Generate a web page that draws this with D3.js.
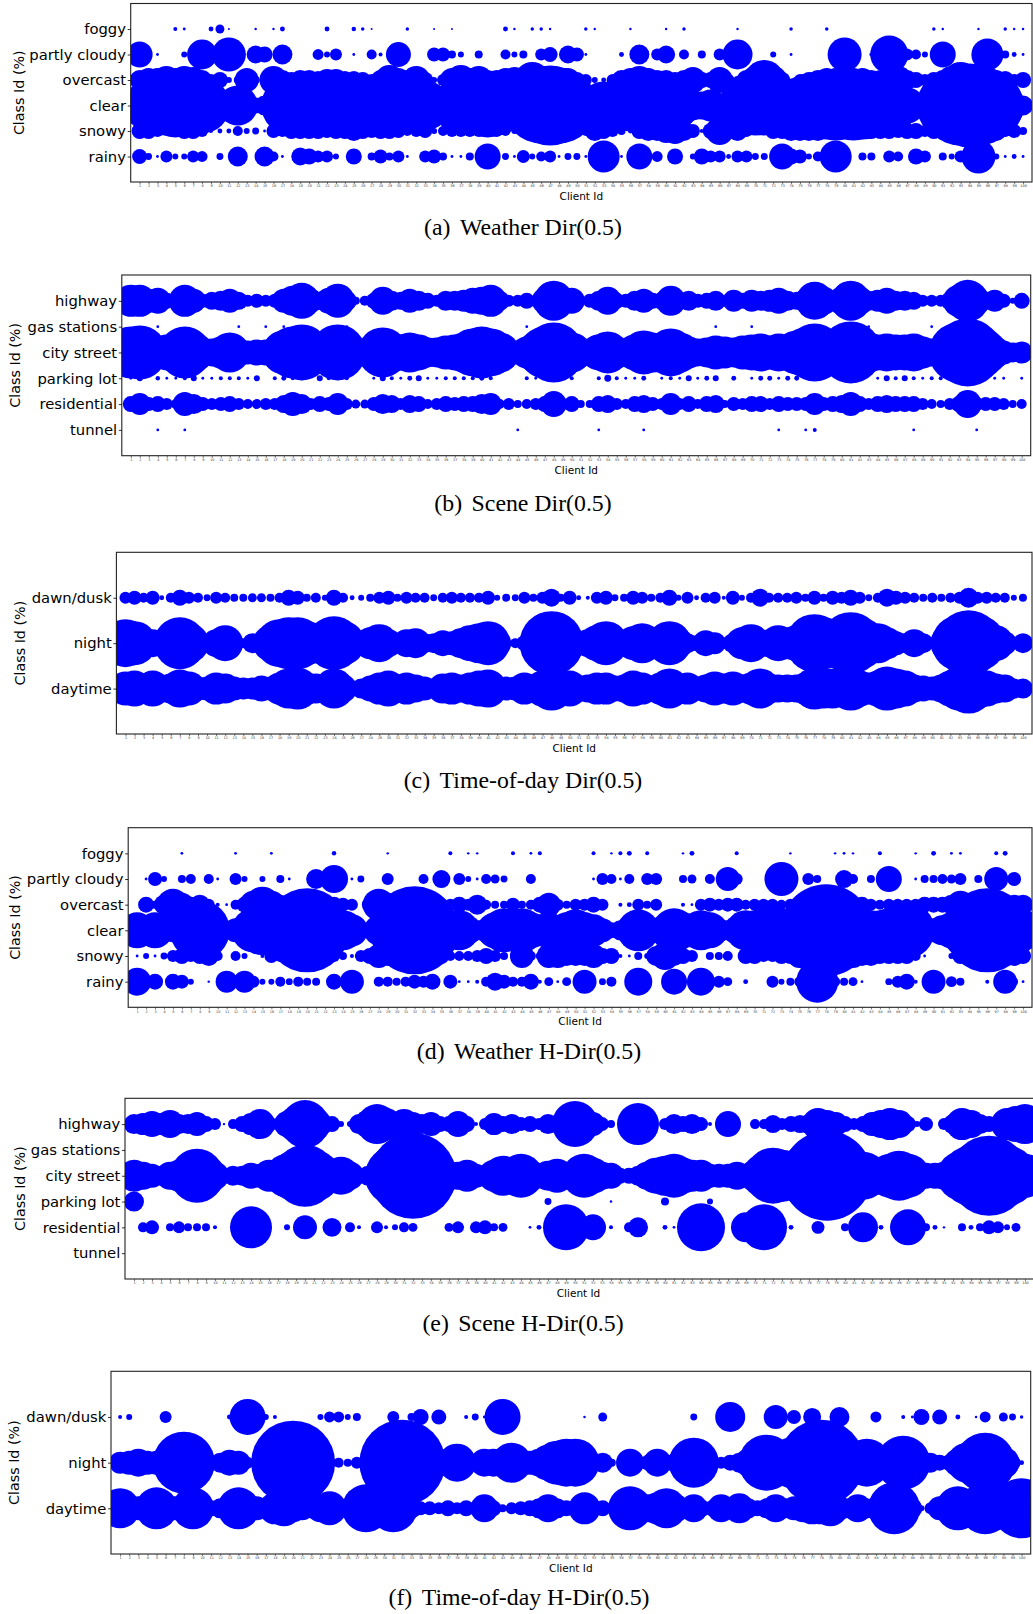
<!DOCTYPE html>
<html><head><meta charset="utf-8">
<script src="https://cdn.jsdelivr.net/npm/d3@7"></script>
<style>body{margin:0;background:#fff;} svg{display:block;}</style>
</head><body>
<svg id="chart" width="1033" height="1614"></svg>
<script>
// ---------- categories / ticks ----------
const clients = d3.range(1, 101);
const clientTickLabels = clients.map(String);
const weatherClasses = ["rainy", "snowy", "clear", "overcast", "partly cloudy", "foggy"];
const sceneClasses = ["tunnel", "residential", "parking lot", "city street", "gas stations", "highway"];
const timeClasses = ["daytime", "night", "dawn/dusk"];

// ---------- (a) Weather Dir(0.5) ----------
const aFoggy = [0,0,0,0,4,2,0,0,6,20, 1,0,0,1.5,0,1.5,6,0,0,0, 0,6,0,0,5,3,1,0,0,0, 3,0,0,1,0,1,0,0,0,0, 0,6,1.5,0,3,3,1.5,0,0,0, 3,1.5,0,0,0,1.5,0,0,0,1.5, 0,3,0,0,0,0,0,1.5,0,0, 0,0,0,3,0,0,0,3,0,0, 0,0,0,0,0,0,0,0,0,3, 1.5,0,0,0,1.5,0,0,3,1.5,1.5];
const aPartlyCloudy = [169,0,2,0,0,9,0,225,0,0, 289,0,0,81,64,0,100,0,0,0, 30,9,36,0,2,0,25,4,0,156, 0,0,0,49,49,16,9,0,16,0, 0,25,9,16,0,36,56,0,81,49, 2,0,0,0,6,0,100,0,36,81, 0,25,0,16,0,36,0,225,0,0, 0,9,0,2,0,0,0,0,0,289, 0,0,4,0,361,49,36,25,9,0, 169,0,0,0,0,256,0,16,6,2];
const aOvercast = [100,144,144,196,144,196,169,100,36,64, 9,16,144,16,25,196,100,64,100,100, 81,121,121,81,81,64,36,100,225,144, 100,196,64,9,36,144,225,144,196,100, 100,144,169,144,324,196,144,144,144,64, 36,9,6,36,100,144,196,144,100,100, 64,100,169,64,64,169,36,16,100,196, 400,196,64,2,36,64,100,144,144,196, 144,144,100,100,144,196,100,64,36,64, 100,196,324,256,196,144,100,81,36,64];
const aClear = [324,625,900,900,1024,1024,900,784,400,144, 196,400,144,64,100,196,400,900,1024,1024, 1024,900,1024,1024,900,784,484,400,484,625, 784,784,625,196,324,484,784,900,900,1024, 900,625,484,484,1024,1444,1600,1444,900,484, 196,400,576,576,400,676,784,676,576,676, 576,324,225,196,256,100,9,256,784,900, 900,784,625,484,784,1024,1156,1156,1225,1156, 1225,1156,1024,900,784,484,324,144,64,100, 625,1225,1600,1764,1600,1296,784,225,64,100];
const aSnowy = [64,64,36,16,36,64,64,36,4,6, 6,25,9,12,2,49,36,64,64,64, 64,49,64,64,100,64,49,64,64,49, 25,36,49,9,25,36,36,36,36,25, 36,25,9,16,64,64,64,64,36,25, 25,100,64,36,16,6,64,100,100,144, 169,100,49,4,64,196,64,100,36,4, 9,64,64,100,100,100,100,64,64,64, 64,64,64,64,64,49,64,64,36,64, 64,64,64,64,100,100,100,36,49,16];
const aRainy = [56,12,2,36,9,9,36,30,0,12, 0,100,0,0,100,25,2,0,81,64, 36,36,9,0,64,0,16,49,16,36, 2,0,36,49,16,2,2,16,0,169, 0,12,2,42,9,25,36,2,12,12, 2,0,256,0,2,0,169,0,30,0, 64,0,9,64,36,36,6,36,36,12, 12,0,169,64,49,9,25,0,256,0, 0,16,16,0,36,25,0,64,36,0, 16,9,36,0,289,0,9,2,6,2];

// ---------- (b) Scene Dir(0.5) ----------
const bHighway = [256,256,144,169,64,49,256,144,49,81, 100,144,81,36,49,36,49,144,225,324, 144,81,169,289,100,16,25,64,196,100, 81,144,100,64,36,100,100,121,169,196, 256,100,36,36,64,25,169,400,144,169, 25,49,100,196,64,49,100,144,64,81, 225,81,100,49,64,100,36,121,64,121, 100,121,169,100,81,144,361,196,64,196, 400,196,100,121,169,100,100,81,36,36, 36,81,256,441,196,81,121,49,9,64];
const bGasStations = [0,0,0,2,0,0,0,0,0,0, 0,0,2,0,0,2,0,2,0,0, 0,0,0,0,2,0,0,0,0,0, 0,0,0,0,0,0,0,0,0,0, 0,0,0,0,2,0,0,0,0,0, 0,0,0,0,0,0,0,0,0,0, 0,0,0,0,0,2,0,0,0,2, 0,0,0,0,0,0,0,0,0,0, 0,0,2,0,0,0,0,0,0,2, 0,0,0,0,0,0,0,0,0,0];
const bCityStreet = [676,729,324,256,324,400,676,400,144,196, 256,400,196,144,169,169,225,484,676,784, 484,324,484,784,400,100,100,324,625,400, 324,400,324,225,225,289,324,400,576,676, 576,400,100,144,256,400,676,900,484,400, 144,196,324,441,256,196,324,484,400,400, 576,400,256,196,225,289,256,225,289,324, 361,289,361,324,484,625,841,576,400,625, 961,576,400,324,361,324,324,361,256,196, 196,400,900,1156,784,484,256,144,100,121];
const bParkingLot = [2,9,0,5,2,2,4,9,2,2, 4,4,4,2,9,0,4,6,4,4, 0,9,4,4,4,0,0,2,9,4, 2,6,9,2,2,4,4,4,4,6, 4,0,0,0,4,2,0,0,0,4, 0,0,4,12,4,2,2,6,0,2, 4,2,9,2,6,9,0,6,0,2, 6,6,2,6,6,0,0,0,0,0, 0,0,0,2,9,4,9,4,2,4, 4,0,0,0,0,0,2,2,0,2];
const bResidential = [64,121,49,64,36,25,144,100,49,36, 49,64,36,25,25,36,36,81,144,100, 36,64,49,121,36,20,20,49,100,81, 36,81,64,25,36,64,49,64,64,100, 121,25,36,16,25,36,64,169,36,64, 16,16,64,81,36,25,64,81,49,36, 121,36,64,25,64,81,16,49,36,64, 64,36,64,49,49,49,121,49,64,81, 144,64,36,64,81,64,64,64,36,25, 16,36,64,196,49,49,49,36,16,25];
const bTunnel = [0,0,0,2,0,0,2,0,0,0, 0,0,0,0,0,0,0,0,0,0, 0,0,0,0,0,0,0,0,0,0, 0,0,0,0,0,0,0,0,0,0, 0,0,0,2,0,0,0,0,0,0, 0,0,2,0,0,0,0,2,0,0, 0,0,0,0,0,0,0,0,0,0, 0,0,2,0,0,2,4,0,0,0, 0,0,0,0,0,0,0,2,0,0, 0,0,0,0,2,0,0,0,0,0];

// ---------- (c) Time-of-day Dir(0.5) ----------
const cDawnDusk = [36,49,25,49,6,25,64,36,25,12, 36,25,16,16,20,20,16,25,64,49, 16,25,9,64,25,6,9,16,36,49, 16,36,25,25,12,25,36,25,25,25, 49,9,16,12,36,16,36,81,16,49, 6,4,36,49,12,16,49,36,16,25, 64,9,36,6,25,36,4,49,9,25, 81,25,25,25,36,16,49,16,49,36, 64,36,12,25,81,49,36,25,16,25, 16,25,36,100,36,36,25,25,9,16];
const cNight = [576,484,144,196,100,256,676,400,100,81, 196,324,64,25,100,36,324,576,676,676, 484,196,484,729,484,64,64,256,361,196, 100,196,225,100,100,169,144,225,324,400, 484,196,16,25,64,196,484,1024,400,144, 64,196,324,484,196,144,289,400,256,289, 484,225,100,64,169,121,36,100,256,361, 196,196,324,256,324,484,841,676,484,676, 961,676,400,400,256,144,100,196,100,36, 100,400,784,1089,784,400,324,144,36,100];
const cDaytime = [289,324,196,324,144,225,361,289,144,144, 256,225,144,121,121,169,144,256,400,441, 256,225,225,400,196,64,100,169,256,324, 196,256,196,144,100,225,256,196,256,324, 361,144,144,144,256,196,324,484,256,324, 144,196,256,256,169,196,324,256,144,256, 400,225,256,144,196,289,225,289,196,256, 400,225,196,196,196,256,441,400,400,324, 484,324,256,324,484,400,324,196,169,144, 196,324,484,625,400,324,225,196,100,100];

// ---------- (d) Weather H-Dir(0.5) ----------
const dFoggy = [0,0,0,0,0,2,0,0,0,0, 0,2,0,0,0,2,0,0,0,0, 0,0,5,0,0,0,0,0,1.5,0, 0,0,0,0,0,4,0,1.5,1.5,0, 0,0,4,0,2,4,0,0,0,0, 0,4,0,1.5,4,6,0,4,0,0, 0,1.5,6,0,0,0,0,4,0,0, 0,0,0,1.5,0,0,0,0,1.5,2, 1.5,0,0,4,0,0,0,1.5,0,6, 0,2,2,0,0,0,4,6,0,0];
const dPartlyCloudy = [0,2,49,9,0,16,25,0,25,2, 0,36,9,0,9,0,16,2,0,0, 100,0,196,0,2,12,0,0,36,0, 0,0,25,0,81,0,36,9,2,25, 20,12,0,0,25,0,0,0,0,0, 0,2,36,25,2,25,0,36,36,0, 0,16,20,0,25,0,144,36,0,0, 0,0,289,0,0,36,16,0,0,81, 25,0,16,0,169,0,0,2,16,16, 25,20,36,0,16,0,144,0,49,0];
const dOvercast = [0,64,16,100,256,144,64,100,36,4, 2,25,64,196,324,196,100,64,100,144, 100,64,64,49,36,0,64,256,144,100, 100,144,100,64,36,36,64,36,100,25, 16,16,49,16,25,64,144,36,16,36, 36,64,36,0,4,6,36,16,36,0, 0,4,2,36,49,36,49,49,25,36, 36,36,25,36,64,100,144,144,100,100, 64,64,36,25,36,36,36,36,64,64, 64,100,196,144,100,144,144,100,100,100];
const dClear = [324,196,324,100,144,225,324,900,225,64, 36,144,196,484,625,324,400,625,900,1764, 900,324,225,400,256,16,36,225,400,784, 1156,1936,900,484,324,256,400,196,100,144, 324,484,400,484,324,256,324,225,324,441, 324,256,144,64,100,196,441,196,144,256, 484,324,256,400,324,144,100,196,400,400, 484,576,484,324,576,900,1296,2116,1296,900, 625,484,400,400,484,576,784,324,100,144, 225,324,484,784,1225,1764,1225,784,625,400];
const dSnowy = [2,9,2,12,36,64,36,64,100,25, 0,25,9,0,4,49,36,36,64,100, 64,36,36,16,4,36,64,144,100,100, 100,100,100,64,64,25,25,25,36,64, 36,16,0,144,25,16,144,144,100,100, 100,144,64,64,4,2,16,9,100,196, 100,64,36,0,16,16,25,0,64,64, 36,36,64,64,144,196,196,196,144,144, 144,100,100,64,64,64,64,25,2,0, 0,9,64,100,144,144,144,100,100,64];
const dRainy = [196,0,64,0,64,49,9,0,1.5,0, 121,0,121,36,9,9,25,12,25,16, 16,0,64,0,144,0,0,25,25,16, 25,49,36,64,0,49,2,2,4,25, 81,49,25,25,64,4,20,2,20,0, 144,0,12,25,0,0,196,0,0,0, 169,0,0,196,0,36,20,0,6,0, 0,36,9,16,25,64,441,0,25,16, 20,2,0,0,12,36,64,4,4,144, 0,30,16,0,0,4,0,144,16,2];

// ---------- (e) Scene H-Dir(0.5) ----------
const eHighway = [100,121,169,121,196,100,100,144,64,36, 1.5,25,64,121,225,64,36,169,324,576, 289,100,64,9,9,100,196,400,256,144, 225,144,100,144,64,64,169,64,4,36, 121,64,100,49,64,36,100,81,196,529, 256,144,49,16,0,0,441,0,0,36, 100,64,100,49,4,0,169,0,0,25, 25,81,36,64,81,100,256,196,144,64, 36,64,144,196,256,196,64,9,49,0, 36,100,256,196,100,64,36,256,324,400];
const eGasStations = d3.range(100).map(() => 0);
const eCityStreet = [256,196,144,100,196,256,324,729,400,196, 64,100,100,169,144,256,256,484,676,961, 676,324,256,361,196,64,100,144,400,900, 1296,1849,1225,576,256,144,196,256,144,100, 256,400,324,484,256,144,225,289,144,256, 484,324,196,169,64,64,100,196,324,400, 484,324,256,256,144,144,144,196,144,256, 484,784,676,484,676,1024,1444,2025,900,676, 576,576,400,324,484,625,484,225,169,169, 196,256,625,900,1156,1600,1156,900,576,484];
const eParkingLot = [100,0,0,0,0,0,0,0,0,0, 0,0,0,0,0,0,0,0,0,0, 0,0,0,0,0,0,0,0,0,0, 0,0,0,0,0,0,0,0,0,0, 0,0,0,0,0,0,12,0,0,0, 0,0,0,1.5,0,0,0,0,0,16, 0,0,0,0,9,0,0,0,0,0, 0,0,0,0,0,0,0,0,0,0, 0,0,0,0,0,0,0,0,0,0, 0,0,0,0,0,0,0,0,0,0];
const eResidential = [0,25,49,0,16,36,16,16,16,4, 0,0,0,441,0,0,0,9,0,144, 0,0,90,0,25,4,0,36,4,9, 25,20,0,0,0,20,36,0,36,49, 16,20,0,0,2,6,0,0,529,0, 0,169,0,4,0,25,100,0,0,6, 2,0,0,576,0,0,0,0,225,0, 529,0,0,6,0,0,42,0,0,16, 0,225,0,6,0,0,324,0,16,6, 1.5,0,16,6,16,49,36,9,20,0];
const eTunnel = d3.range(100).map(() => 0);

// ---------- (f) Time-of-day H-Dir(0.5) ----------
const fDawnDusk = [4,9,0,0,0,36,0,0,0,0, 0,0,6,0,324,9,9,4,0,0, 0,0,9,30,30,9,16,0,0,0, 36,0,16,64,0,56,0,0,4,12, 2,0,324,36,0,0,0,0,0,0, 0,1.5,0,20,0,0,0,0,0,0, 0,0,0,12,0,0,0,225,0,0, 0,0,144,0,49,0,81,0,0,100, 0,0,0,30,0,0,4,2,64,0, 56,0,6,0,1.5,30,0,20,12,3];
const fNight = [121,144,196,144,144,100,256,961,400,144, 64,100,169,144,36,36,196,400,900,1764, 1024,400,144,36,25,16,36,25,196,484, 900,1849,784,324,144,144,196,361,100,64, 196,196,144,400,144,144,196,324,484,576, 576,225,64,100,16,16,196,36,64,196, 64,100,256,625,64,36,36,64,100,196, 324,784,576,400,676,576,900,1849,900,784, 484,484,576,100,196,400,729,196,144,100, 64,64,196,400,576,900,484,256,64,6];
const fDaytime = [400,144,144,144,441,196,144,100,441,144, 64,100,100,441,196,144,100,256,324,196, 144,100,196,289,100,100,196,576,324,324, 576,256,100,49,49,36,64,36,64,49, 196,64,16,36,49,64,100,196,100,64, 64,256,64,64,36,100,484,144,196,256, 400,196,64,196,64,64,196,100,225,100, 64,100,196,100,144,196,256,256,324,144, 100,196,100,64,100,676,196,100,9,36, 144,196,484,324,400,676,484,400,484,900];

// ---------- panel layout ----------
const panels = [
  { label: "(a)", title: "Weather Dir(0.5)", classes: weatherClasses,
    series: [aRainy, aSnowy, aClear, aOvercast, aPartlyCloudy, aFoggy],
    box: { l: 130.7, r: 1032, t: 3.5, b: 182 }, yLabelX: 18.6, capX: 523, capY: 235 },
  { label: "(b)", title: "Scene Dir(0.5)", classes: sceneClasses,
    series: [bTunnel, bResidential, bParkingLot, bCityStreet, bGasStations, bHighway],
    box: { l: 121.8, r: 1030.7, t: 275, b: 455.7 }, yLabelX: 15, capX: 523, capY: 511 },
  { label: "(c)", title: "Time-of-day Dir(0.5)", classes: timeClasses,
    series: [cDaytime, cNight, cDawnDusk],
    box: { l: 116.4, r: 1032, t: 552.3, b: 734 }, yLabelX: 19.6, capX: 523, capY: 788 },
  { label: "(d)", title: "Weather H-Dir(0.5)", classes: weatherClasses,
    series: [dRainy, dSnowy, dClear, dOvercast, dPartlyCloudy, dFoggy],
    box: { l: 128.2, r: 1032, t: 827.7, b: 1007.3 }, yLabelX: 15, capX: 529, capY: 1058.5 },
  { label: "(e)", title: "Scene H-Dir(0.5)", classes: sceneClasses,
    series: [eTunnel, eResidential, eParkingLot, eCityStreet, eGasStations, eHighway],
    box: { l: 125, r: 1034, t: 1098.3, b: 1279 }, yLabelX: 19.6, capX: 523, capY: 1331 },
  { label: "(f)", title: "Time-of-day H-Dir(0.5)", classes: timeClasses,
    series: [fDaytime, fNight, fDawnDusk],
    box: { l: 111, r: 1030.7, t: 1371.3, b: 1554 }, yLabelX: 13.6, capX: 519, capY: 1605 }
];

const svg = d3.select("#chart");
svg.append("rect").attr("width", 1033).attr("height", 1614).attr("fill", "#fff");
const rScale = d3.scaleSqrt().domain([0, 2500]).range([0, 50]);
const sans = "'DejaVu Sans', sans-serif";

panels.forEach((p, pi) => {
  const b = p.box;
  const x = d3.scaleLinear().domain([0, 101]).range([b.l, b.r]);
  const y = d3.scaleLinear().domain([-1, p.classes.length]).range([b.b, b.t]);
  const g = svg.append("g");

  const clipId = "clip" + pi;
  svg.append("clipPath").attr("id", clipId).append("rect")
    .attr("x", b.l).attr("y", b.t).attr("width", b.r - b.l).attr("height", b.b - b.t);

  const pts = [];
  p.series.forEach((vals, ci) => vals.forEach((v, i) => { if (v > 0) pts.push({ c: clients[i], ci, v }); }));

  g.append("g").attr("clip-path", `url(#${clipId})`)
    .selectAll("circle").data(pts).join("circle")
    .attr("cx", d => x(d.c)).attr("cy", d => y(d.ci)).attr("r", d => rScale(d.v))
    .attr("fill", "#0000ff");

  g.append("rect").attr("x", b.l).attr("y", b.t).attr("width", b.r - b.l).attr("height", b.b - b.t)
    .attr("fill", "none").attr("stroke", "#222").attr("stroke-width", 1.1);

  const xAxis = d3.axisBottom(x).tickValues(clients).tickFormat((d, i) => clientTickLabels[i])
    .tickSize(2.2).tickPadding(0.8);
  const xg = g.append("g").attr("transform", `translate(0,${b.b})`).call(xAxis);
  xg.select(".domain").remove();
  xg.attr("font-size", 3.4).attr("font-family", sans);
  xg.selectAll("line").attr("stroke", "#222").attr("stroke-width", 0.6);
  xg.selectAll("text").attr("fill", "#333");

  const yAxis = d3.axisLeft(y).tickValues(d3.range(p.classes.length)).tickFormat(i => p.classes[i])
    .tickSize(3).tickPadding(1.7);
  const yg = g.append("g").attr("transform", `translate(${b.l},0)`).call(yAxis);
  yg.select(".domain").remove();
  yg.attr("font-size", 14.8).attr("font-family", sans);
  yg.selectAll("line").attr("stroke", "#000").attr("stroke-width", 0.8);
  yg.selectAll("text").attr("fill", "#000");

  g.append("text").attr("transform", `translate(${p.yLabelX},${(b.t + b.b) / 2}) rotate(-90)`)
    .attr("text-anchor", "middle").attr("dominant-baseline", "central")
    .attr("font-family", sans).attr("font-size", 14.3).text("Class Id (%)");

  g.append("text").attr("x", (b.l + Math.min(b.r, 1032)) / 2).attr("y", b.b + 17.8)
    .attr("text-anchor", "middle").attr("font-family", sans).attr("font-size", 10.5).text("Client Id");

  const cap = g.append("text").attr("x", p.capX).attr("y", p.capY).attr("text-anchor", "middle")
    .attr("font-family", "'Liberation Serif', 'Times New Roman', serif").attr("font-size", 23.8);
  cap.append("tspan").text(p.label);
  cap.append("tspan").attr("dx", 9.5).text(p.title);
});
</script>
</body></html>
